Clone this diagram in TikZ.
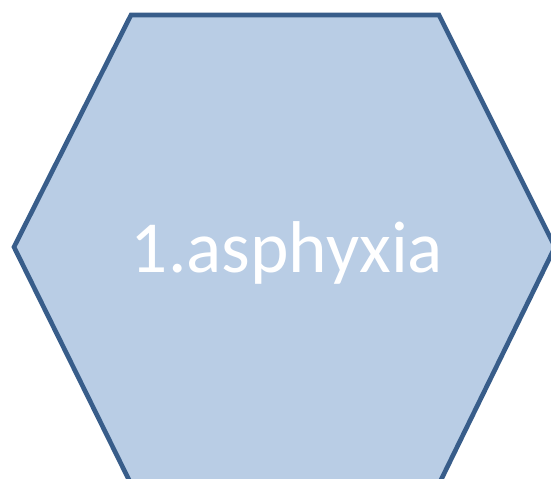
\documentclass[tikz,border=0pt]{standalone}
\usepackage{fontspec}
\setmainfont{Carlito}
\definecolor{hexfill}{HTML}{B9CDE5}
\definecolor{hexline}{HTML}{385D8A}
\tikzset{hexbox/.style={draw=hexline,fill=hexfill,line width=3.5pt,line join=miter}}
\begin{document}
\begin{tikzpicture}[x=0.75pt,y=-0.75pt]
\useasboundingbox (0,0) rectangle (551,479);
\clip (0,0) rectangle (551,479);
\coordinate (tl) at (131,15);
\coordinate (tr) at (439,15);
\coordinate (r) at (555,247);
\coordinate (br) at (439,484);
\coordinate (bl) at (131,484);
\coordinate (l) at (14,247);
\draw[hexbox] (tl) -- (tr) -- (r) -- (br) -- (bl) -- (l) -- cycle;
\node[text=white,font=\fontsize{55}{66}\selectfont,inner sep=0pt,anchor=base] (t) at (287,272) {1.asphyxia};
\end{tikzpicture}
\end{document}
